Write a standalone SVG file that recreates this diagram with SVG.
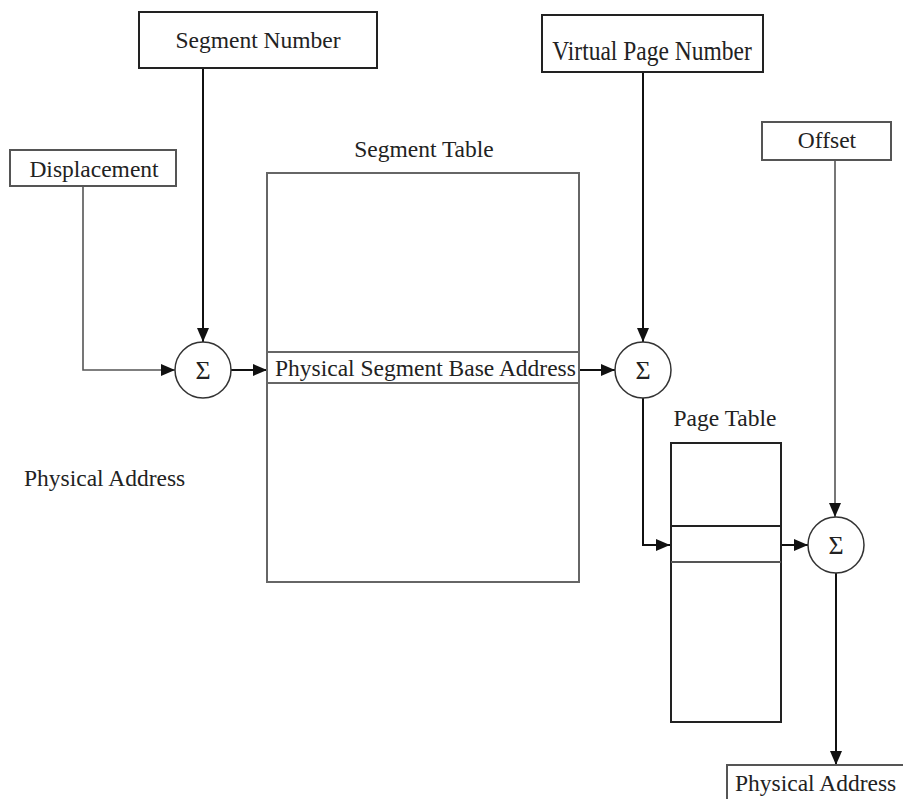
<svg xmlns="http://www.w3.org/2000/svg" width="903" height="799" viewBox="0 0 903 799">
  <defs>
    <marker id="arrow" viewBox="0 0 14 12" refX="14" refY="6" markerWidth="14" markerHeight="12" markerUnits="userSpaceOnUse" orient="auto">
      <path d="M0,0 L14,6 L0,12 Z" fill="#111"/>
    </marker>
  </defs>
  <style>
    text { font-family: "Liberation Serif", "Times New Roman", serif; font-size: 23.5px; fill: #222; }
    .mid { text-anchor: middle; }
    .box { fill: #fff; stroke: #222; stroke-width: 2; }
    .lbox { fill: #fff; stroke: #555; stroke-width: 2; }
    .tbl { fill: #fff; stroke: #666; stroke-width: 2; }
    .sum { fill: #fff; stroke: #333; stroke-width: 1.5; }
    .sig { font-size: 26px; text-anchor: middle; }
    .wire { fill: none; stroke: #111; stroke-width: 2; }
    .gwire { fill: none; stroke: #555; stroke-width: 1.6; }
  </style>

  <rect width="903" height="799" fill="#fff"/>

  <!-- connectors -->
  <g id="connectors">
    <path class="wire" d="M203,68 V342" marker-end="url(#arrow)"/>
    <path class="gwire" d="M83,186 V370 H175" marker-end="url(#arrow)"/>
    <path class="wire" d="M231,370 H267" marker-end="url(#arrow)"/>
    <path class="wire" d="M579,370 H615" marker-end="url(#arrow)"/>
    <path class="wire" d="M643,72 V342" marker-end="url(#arrow)"/>
    <path class="wire" d="M643,398 V545 H670" marker-end="url(#arrow)"/>
    <path class="gwire" d="M835,160 V517" marker-end="url(#arrow)"/>
    <path class="wire" d="M781,545 H808" marker-end="url(#arrow)"/>
    <path class="wire" d="M836,573 V765" marker-end="url(#arrow)"/>
  </g>

  <!-- input fields -->
  <g id="segment-number">
    <rect class="box" x="139" y="12" width="238" height="56"/>
    <text class="mid" x="258" y="48">Segment Number</text>
  </g>
  <g id="displacement">
    <rect class="lbox" x="10" y="150" width="166" height="36"/>
    <text class="mid" x="94" y="177">Displacement</text>
  </g>
  <g id="virtual-page-number">
    <rect class="box" x="542" y="15" width="221" height="57"/>
    <text class="mid" transform="translate(652,60) scale(1,1.2)">Virtual Page Number</text>
  </g>
  <g id="offset">
    <rect class="lbox" x="762" y="122" width="129" height="38"/>
    <text class="mid" x="827" y="148">Offset</text>
  </g>

  <!-- segment table -->
  <g id="segment-table">
    <text class="mid" x="424" y="157">Segment Table</text>
    <rect class="tbl" x="267" y="173" width="312" height="409"/>
    <rect class="tbl" x="267" y="352" width="312" height="31"/>
    <text x="275" y="376">Physical Segment Base Address</text>
  </g>

  <!-- page table -->
  <g id="page-table">
    <text class="mid" x="725" y="426">Page Table</text>
    <rect class="box" x="671" y="443" width="110" height="279"/>
    <line x1="671" y1="526" x2="781" y2="526" stroke="#222" stroke-width="2"/>
    <line x1="671" y1="562" x2="781" y2="562" stroke="#555" stroke-width="2"/>
  </g>

  <!-- adders -->
  <g id="sum-1">
    <circle class="sum" cx="203" cy="370" r="28"/>
    <text class="sig" x="203" y="379">Σ</text>
  </g>
  <g id="sum-2">
    <circle class="sum" cx="643" cy="370" r="28"/>
    <text class="sig" x="643" y="379">Σ</text>
  </g>
  <g id="sum-3">
    <circle class="sum" cx="836" cy="545" r="28"/>
    <text class="sig" x="836" y="554">Σ</text>
  </g>

  <!-- outputs -->
  <g id="physical-address-label">
    <text x="24" y="486">Physical Address</text>
  </g>
  <g id="physical-address">
    <rect class="lbox" x="727" y="765" width="190" height="45"/>
    <text x="735" y="791">Physical Address</text>
  </g>
</svg>
